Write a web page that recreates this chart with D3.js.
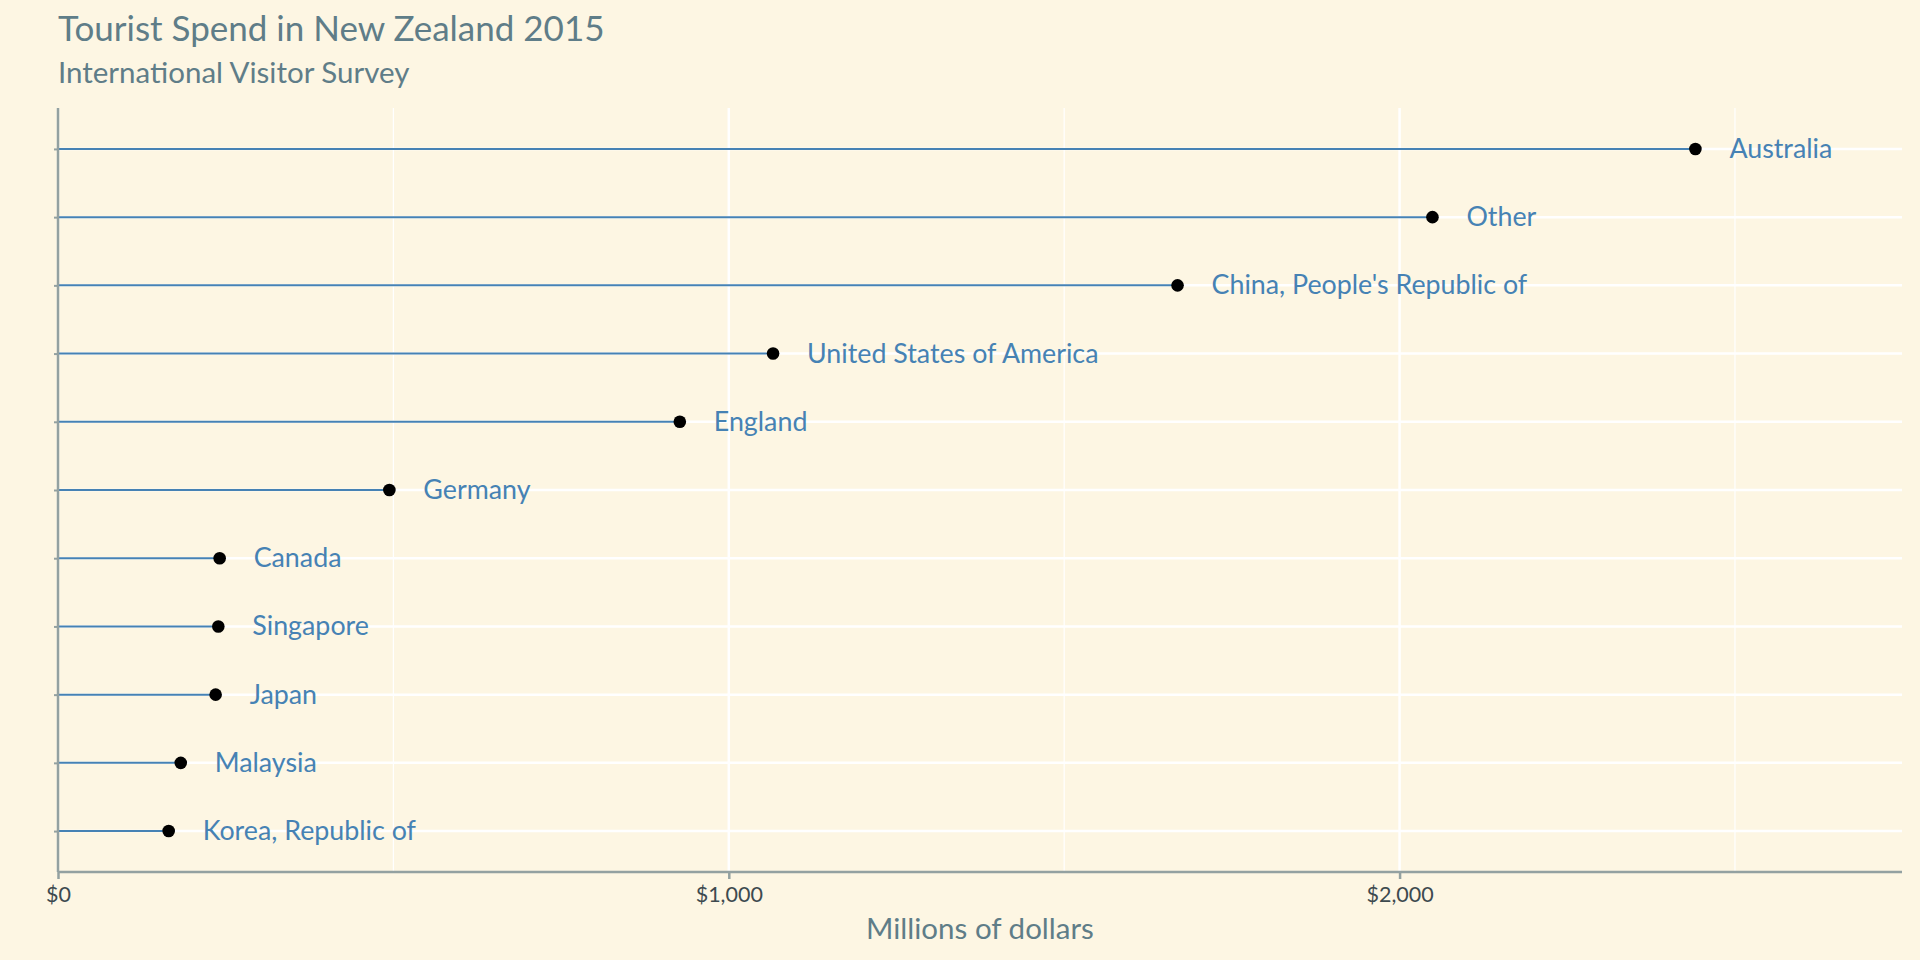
<!DOCTYPE html>
<html>
<head>
<meta charset="utf-8">
<script src="https://cdn.jsdelivr.net/npm/d3@7"></script>
<style>
  html, body { margin: 0; padding: 0; background: #fdf6e3; }
  svg { display: block; font-family: Lato, "Open Sans", sans-serif; }
</style>
</head>
<body>
<div id="chart"></div>
<script>
// Tourist spend by country, millions NZD
const countries = ["Australia", "Other", "China, People's Republic of", "United States of America",
  "England", "Germany", "Canada", "Singapore", "Japan", "Malaysia", "Korea, Republic of"];
const spend = [2441, 2049, 1669, 1066, 927, 494, 241, 239, 235, 183, 165];
const xTicks = [0, 1000, 2000];
const xMinor = [500, 1500, 2500];

const width = 1920, height = 960;
const margin = { top: 108, right: 18, bottom: 88, left: 58 };

const svg = d3.select("#chart").append("svg")
  .attr("width", width)
  .attr("height", height);

svg.append("rect").attr("width", width).attr("height", height).attr("fill", "#fdf6e3");

const x = d3.scaleLinear().domain([0, 2749]).range([margin.left, width - margin.right]);
const y = d3.scalePoint().domain(countries).range([margin.top, height - margin.bottom]).padding(0.6);

// Grid
svg.append("g").selectAll("line").data(xMinor).join("line")
  .attr("x1", d => x(d)).attr("x2", d => x(d))
  .attr("y1", margin.top).attr("y2", height - margin.bottom)
  .attr("stroke", "#ffffff").attr("stroke-width", 1.2);
svg.append("g").selectAll("line").data(xTicks).join("line")
  .attr("x1", d => x(d)).attr("x2", d => x(d))
  .attr("y1", margin.top).attr("y2", height - margin.bottom)
  .attr("stroke", "#ffffff").attr("stroke-width", 2.5);
svg.append("g").selectAll("line").data(countries).join("line")
  .attr("x1", margin.left).attr("x2", width - margin.right)
  .attr("y1", d => y(d)).attr("y2", d => y(d))
  .attr("stroke", "#ffffff").attr("stroke-width", 2.5);

// Lollipops
const rows = countries.map((c, i) => ({ name: c, value: spend[i] }));

svg.append("g").selectAll("line").data(rows).join("line")
  .attr("x1", x(0)).attr("x2", d => x(d.value))
  .attr("y1", d => y(d.name)).attr("y2", d => y(d.name))
  .attr("stroke", "#4682b4").attr("stroke-width", 2);

svg.append("g").selectAll("circle").data(rows).join("circle")
  .attr("cx", d => x(d.value)).attr("cy", d => y(d.name))
  .attr("r", 6.3).attr("fill", "#000");

svg.append("g").selectAll("text").data(rows).join("text")
  .attr("x", d => x(d.value) + 34).attr("y", d => y(d.name) + 9)
  .attr("fill", "#4682b4").attr("font-size", 26.8)
  .text(d => d.name);

// Axes
const xAxis = svg.append("g")
  .attr("transform", `translate(0,${height - margin.bottom})`)
  .call(d3.axisBottom(x).tickValues(xTicks).tickSize(7).tickPadding(8)
    .tickFormat(d => "$" + d3.format(",")(d)));
xAxis.select(".domain").remove();
xAxis.selectAll(".tick line").attr("stroke", "#93a1a1").attr("stroke-width", 2.5);
xAxis.selectAll(".tick text").attr("fill", "#3d4a4f").attr("font-size", 21.5)
  .attr("font-family", "Lato, sans-serif");

const yAxis = svg.append("g")
  .attr("transform", `translate(${margin.left},0)`)
  .call(d3.axisLeft(y).tickSize(4).tickFormat(""));
yAxis.select(".domain").remove();
yAxis.selectAll(".tick line").attr("stroke", "#93a1a1").attr("stroke-width", 2);

svg.append("line")
  .attr("x1", margin.left).attr("x2", width - margin.right)
  .attr("y1", height - margin.bottom).attr("y2", height - margin.bottom)
  .attr("stroke", "#93a1a1").attr("stroke-width", 2.5);
svg.append("line")
  .attr("x1", margin.left).attr("x2", margin.left)
  .attr("y1", margin.top).attr("y2", height - margin.bottom)
  .attr("stroke", "#93a1a1").attr("stroke-width", 2.5);

// Titles
svg.append("text").attr("x", 58).attr("y", 41)
  .attr("fill", "#5f7d88").attr("font-size", 35)
  .text("Tourist Spend in New Zealand 2015");
svg.append("text").attr("x", 58).attr("y", 83)
  .attr("fill", "#5f7d88").attr("font-size", 29.5)
  .text("International Visitor Survey");
svg.append("text").attr("x", (margin.left + width - margin.right) / 2).attr("y", 939)
  .attr("text-anchor", "middle")
  .attr("fill", "#5f7d88").attr("font-size", 29.5)
  .text("Millions of dollars");
</script>
</body>
</html>
